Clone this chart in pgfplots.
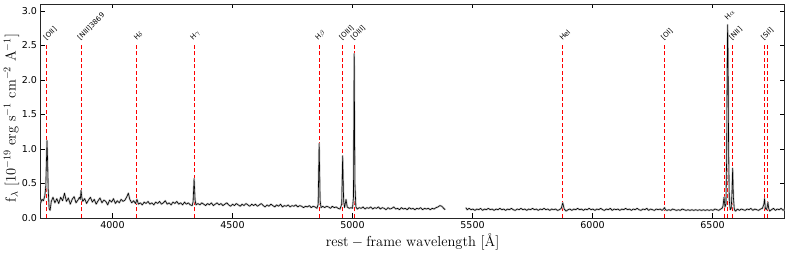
\documentclass[border=0pt]{standalone}
\usepackage{fontspec}
\usepackage{pgfplots}
\pgfplotsset{compat=1.18}
\usepackage{pgfplotstable}
\usetikzlibrary{calc}
\newfontfamily\dejavu{DejaVu Sans}

\pgfplotstableread{
x y
3700 0.21
3706 0.27
3712 0.25
3718 0.32
3722 0.45
3725 0.85
3727 1.12
3729 0.90
3732 0.42
3736 0.14
3740 0.11
3745 0.24
3752 0.30
3760 0.22
3768 0.28
3776 0.21
3784 0.30
3792 0.25
3800 0.36
3808 0.24
3816 0.29
3824 0.20
3832 0.27
3840 0.31
3848 0.22
3856 0.26
3862 0.30
3866 0.27
3869 0.40
3872 0.30
3876 0.24
3884 0.28
3892 0.21
3900 0.26
3908 0.30
3916 0.23
3924 0.27
3932 0.20
3940 0.25
3948 0.29
3956 0.22
3964 0.26
3972 0.24
3980 0.19
3988 0.26
3996 0.23
4004 0.28
4012 0.21
4020 0.25
4028 0.22
4036 0.27
4044 0.24
4052 0.26
4060 0.31
4066 0.36
4072 0.27
4080 0.22
4088 0.25
4096 0.21
4102 0.27
4108 0.20
4116 0.22
4124 0.19
4132 0.23
4140 0.21
4148 0.24
4156 0.20
4164 0.22
4172 0.19
4180 0.23
4188 0.21
4196 0.24
4204 0.20
4212 0.22
4220 0.25
4228 0.20
4236 0.22
4244 0.19
4252 0.23
4260 0.21
4268 0.24
4276 0.20
4284 0.22
4292 0.19
4300 0.23
4308 0.20
4316 0.22
4324 0.19
4332 0.18
4336 0.24
4340 0.57
4344 0.26
4348 0.19
4356 0.21
4364 0.19
4372 0.22
4380 0.20
4388 0.18
4396 0.21
4404 0.19
4412 0.22
4420 0.18
4428 0.20
4436 0.22
4444 0.19
4452 0.21
4460 0.18
4468 0.20
4476 0.22
4484 0.19
4492 0.17
4500 0.20
4508 0.18
4516 0.21
4524 0.19
4532 0.17
4540 0.20
4548 0.18
4556 0.21
4564 0.19
4572 0.17
4580 0.20
4588 0.18
4596 0.20
4604 0.17
4612 0.19
4620 0.21
4628 0.18
4636 0.16
4644 0.19
4652 0.17
4660 0.20
4668 0.18
4676 0.16
4684 0.19
4692 0.17
4700 0.20
4708 0.16
4716 0.18
4724 0.17
4732 0.19
4740 0.16
4748 0.18
4756 0.17
4764 0.19
4772 0.16
4780 0.18
4788 0.17
4796 0.15
4804 0.17
4812 0.16
4820 0.18
4828 0.15
4836 0.17
4844 0.16
4852 0.14
4857 0.20
4861 1.08
4865 0.25
4869 0.15
4876 0.17
4884 0.15
4892 0.17
4900 0.16
4908 0.14
4916 0.17
4924 0.15
4932 0.16
4940 0.14
4948 0.13
4955 0.20
4959 0.90
4963 0.25
4967 0.15
4973 0.27
4978 0.16
4986 0.14
4994 0.15
5000 0.14
5004 0.30
5007 2.38
5010 0.50
5014 0.16
5020 0.13
5028 0.15
5036 0.14
5044 0.16
5052 0.13
5060 0.15
5068 0.14
5076 0.16
5084 0.13
5092 0.15
5100 0.14
5108 0.16
5116 0.13
5124 0.15
5132 0.14
5140 0.12
5148 0.15
5156 0.13
5164 0.14
5172 0.16
5180 0.13
5188 0.14
5196 0.12
5204 0.15
5212 0.13
5220 0.14
5228 0.12
5236 0.15
5244 0.13
5252 0.14
5260 0.12
5268 0.14
5276 0.13
5284 0.15
5292 0.12
5300 0.14
5308 0.13
5316 0.14
5324 0.12
5332 0.14
5340 0.13
5348 0.15
5356 0.16
5364 0.18
5372 0.17
5380 0.14
5386 0.12
5430 nan
5472 0.15
5478 0.12
5486 0.14
5494 0.12
5502 0.13
5510 0.11
5518 0.13
5526 0.12
5534 0.14
5542 0.11
5550 0.13
5558 0.12
5566 0.14
5574 0.12
5582 0.13
5590 0.11
5598 0.13
5606 0.12
5614 0.14
5622 0.12
5630 0.13
5638 0.11
5646 0.13
5654 0.12
5662 0.14
5670 0.12
5678 0.11
5686 0.13
5694 0.12
5702 0.14
5710 0.12
5718 0.13
5726 0.11
5734 0.13
5742 0.12
5750 0.14
5758 0.12
5766 0.13
5774 0.11
5782 0.13
5790 0.12
5798 0.14
5806 0.12
5814 0.13
5822 0.11
5830 0.13
5838 0.12
5846 0.13
5854 0.11
5862 0.12
5870 0.14
5876 0.22
5882 0.13
5890 0.10
5898 0.12
5906 0.13
5914 0.11
5922 0.13
5930 0.12
5938 0.14
5946 0.12
5954 0.13
5962 0.11
5970 0.13
5978 0.12
5986 0.14
5994 0.12
6002 0.13
6010 0.11
6018 0.13
6026 0.12
6034 0.14
6042 0.12
6050 0.11
6058 0.13
6066 0.12
6074 0.14
6082 0.11
6090 0.13
6098 0.12
6106 0.13
6114 0.11
6122 0.13
6130 0.12
6138 0.14
6146 0.12
6154 0.13
6162 0.11
6170 0.13
6178 0.12
6186 0.14
6194 0.12
6202 0.11
6210 0.13
6218 0.12
6226 0.14
6234 0.11
6242 0.13
6250 0.12
6258 0.11
6266 0.13
6274 0.12
6282 0.13
6290 0.11
6296 0.13
6300 0.15
6304 0.12
6310 0.11
6318 0.12
6326 0.11
6334 0.13
6342 0.12
6350 0.11
6358 0.12
6366 0.11
6374 0.13
6382 0.12
6390 0.11
6398 0.12
6406 0.11
6414 0.12
6422 0.11
6430 0.12
6438 0.11
6446 0.12
6454 0.11
6462 0.12
6470 0.11
6478 0.12
6486 0.11
6494 0.12
6502 0.11
6510 0.13
6518 0.12
6526 0.11
6534 0.13
6540 0.14
6544 0.18
6548 0.30
6552 0.16
6556 0.20
6559 0.90
6561 2.10
6563 2.80
6565 2.30
6567 1.00
6570 0.25
6574 0.12
6578 0.14
6581 0.35
6584 0.72
6587 0.30
6591 0.12
6596 0.10
6604 0.13
6612 0.11
6620 0.13
6628 0.12
6636 0.11
6644 0.13
6652 0.12
6660 0.14
6668 0.11
6676 0.13
6684 0.12
6692 0.11
6700 0.13
6708 0.14
6714 0.20
6717 0.28
6720 0.14
6724 0.12
6728 0.16
6731 0.23
6734 0.14
6738 0.10
6746 0.12
6754 0.14
6762 0.11
6770 0.13
6778 0.12
6786 0.14
6794 0.11
6800 0.13
}\spec

\tikzset{lbl/.style={rotate=45, anchor=south west, inner sep=0pt, font=\dejavu\fontsize{7}{8}\selectfont}}

\begin{document}
\begin{tikzpicture}
\begin{axis}[
  name=ax,
  scale only axis,
  width=744pt, height=214pt,
  xmin=3700, xmax=6800, ymin=0, ymax=3.1,
  xtick={4000,4500,5000,5500,6000,6500},
  ytick={0,0.5,1,1.5,2,2.5,3},
  tick align=inside,
  major tick length=4.5pt,
  tick style={black, line width=0.6pt},
  axis line style={line width=0.8pt, black!85},
  ticklabel style={font=\dejavu\fontsize{9.5}{11}\selectfont},
  /pgf/number format/assume math mode=true,
  /pgf/number format/1000 sep={},
  yticklabel style={/pgf/number format/.cd, fixed, fixed zerofill, precision=1},
  unbounded coords=jump,
  xlabel={$\mathrm{rest-frame\ wavelength}$ [\AA]},
  ylabel={$\mathrm{f_{\lambda}\ [10^{-19}\ erg\ s^{-1}\ cm^{-2}\ A^{-1}]}$},
  xlabel style={at={(axis description cs:0.5,-0.1355)}, anchor=base, font=\fontsize{14.5}{17}\selectfont},
  ylabel style={at={(axis description cs:-0.039,0.467)}, rotate=0, anchor=center, font=\fontsize{14.5}{17}\selectfont},
]
\pgfplotsinvokeforeach{3727,3869,4102,4340,4861,4959,5007,5876,6300,6548,6563,6584,6717,6731}{
  \addplot[red, line width=1pt, dash pattern=on 4pt off 2.5pt, forget plot] coordinates {(#1,0) (#1,2.5)};
}
\addplot[gray!40, line width=2pt, line join=round, forget plot] table[x=x,y=y]{\spec};
\addplot[black, line width=0.6pt, line join=round, forget plot] table[x=x,y=y]{\spec};

\node[lbl] at (axis cs:3727,2.56) {[OII]};
\node[lbl] at (axis cs:3869,2.56) {[NIII]3869};
\node[lbl] at (axis cs:4102,2.56) {H$\delta$};
\node[lbl] at (axis cs:4340,2.56) {H$\gamma$};
\node[lbl] at (axis cs:4861,2.56) {H$\beta$};
\node[lbl] at (axis cs:4959,2.56) {[OIII]};
\node[lbl] at (axis cs:5007,2.56) {[OIII]};
\node[lbl] at (axis cs:5876,2.56) {HeI};
\node[lbl] at (axis cs:6300,2.56) {[OI]};
\node[lbl] at (axis cs:6563,2.86) {H$\alpha$};
\node[lbl] at (axis cs:6584,2.56) {[NII]};
\node[lbl] at (axis cs:6717,2.56) {[SII]};
\end{axis}
\pgfresetboundingbox
\path ($(ax.south west)+(-40.5pt,-37.7pt)$) rectangle ($(ax.north east)+(4.5pt,4pt)$);
\end{tikzpicture}
\end{document}
